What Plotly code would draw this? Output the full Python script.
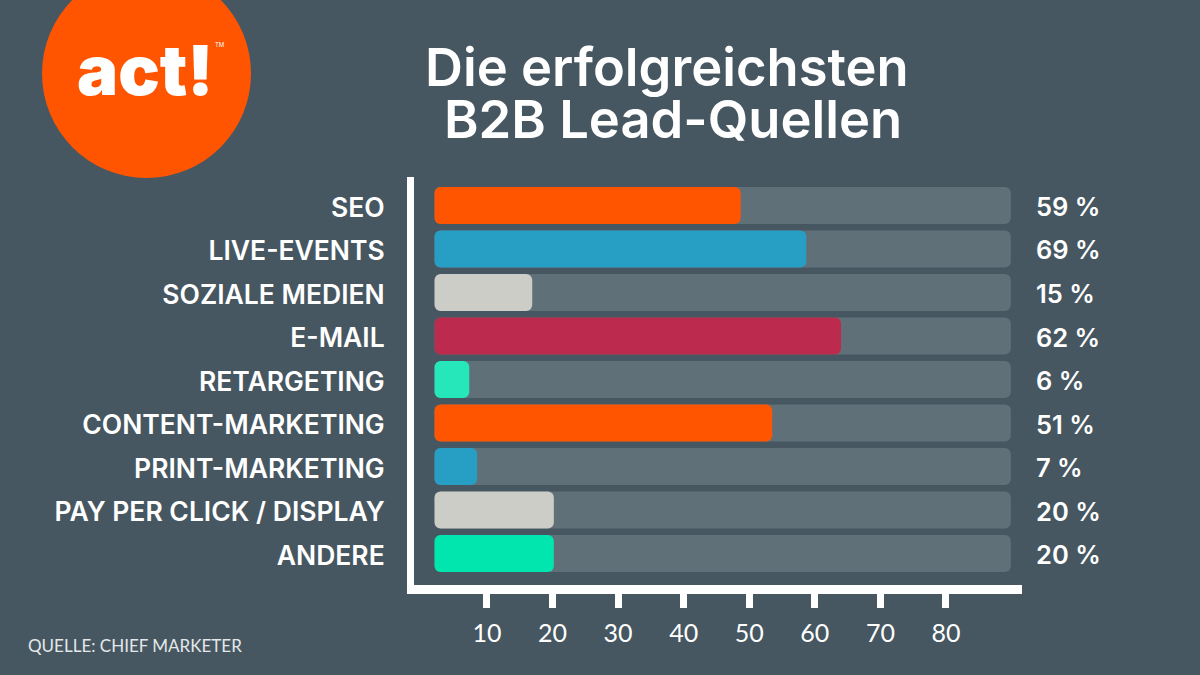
import plotly.graph_objects as go

categories = ["SEO", "LIVE-EVENTS", "SOZIALE MEDIEN", "E-MAIL", "RETARGETING",
              "CONTENT-MARKETING", "PRINT-MARKETING", "PAY PER CLICK / DISPLAY", "ANDERE"]
bar_end = [48.7, 58.7, 16.9, 64.0, 7.3, 53.5, 8.5, 20.2, 20.2]
value_labels = ["59 %", "69 %", "15 %", "62 %", "6 %", "51 %", "7 %", "20 %", "20 %"]
colors = ["#FF5500", "#279FC4", "#CCCDC6", "#BC2A4D", "#26E7B9",
          "#FF5500", "#279FC4", "#CCCDC6", "#00E6AE"]
track_end = 89.9
bar_start = 2.0
x_ticks = [10, 20, 30, 40, 50, 60, 70, 80]

BG = "#465761"
TRACK = "#607079"
FONT = "Lato"
HEAD = "Inter"
L, R, T, B = 414, 1022, 177, 585
W, H = 1200, 675


def px(x):
    return (x - L) / (R - L)


def py(y):
    return (B - y) / (B - T)


def note(x, y, text, font, xanchor="center"):
    return dict(x=px(x), y=py(y), xref="paper", yref="paper", text=text, showarrow=False,
                xanchor=xanchor, yanchor="middle", font=font)


fig = go.Figure()
fig.add_bar(y=categories, x=[track_end - bar_start] * len(categories), base=bar_start,
            orientation="h", marker=dict(color=TRACK, line_width=0), hoverinfo="skip")
fig.add_bar(y=categories, x=[e - bar_start for e in bar_end], base=bar_start,
            orientation="h", marker=dict(color=colors, line_width=0))

annotations = [
    dict(x=px(1034), xref="paper", y=c, yref="y", yshift=-1, text=t, showarrow=False,
         xanchor="left", yanchor="middle",
         font=dict(family=HEAD, size=25.5, color="white", weight=600))
    for c, t in zip(categories, value_labels)
]
title_font = dict(family=HEAD, size=52.5, color="white", weight=600)
annotations += [
    note(667, 67, "Die erfolgreichsten", title_font),
    note(673, 119, "B2B Lead-Quellen", title_font),
    note(26, 645, "QUELLE: CHIEF MARKETER", dict(family=FONT, size=17, color="#E4E8EA"), "left"),
    note(145, 70, "act!", dict(family=HEAD, size=69, color="white", weight=900)),
    note(219, 44, "TM", dict(family=HEAD, size=6, color="white")),
]

fig.update_layout(
    width=W, height=H, autosize=False,
    margin=dict(l=L, r=W - R, t=T, b=H - B, pad=0),
    paper_bgcolor=BG, plot_bgcolor=BG,
    barmode="overlay", bargap=0.15, barcornerradius=6,
    showlegend=False,
    annotations=annotations,
    shapes=[dict(type="circle", xref="paper", yref="paper", layer="below",
                 x0=px(42), x1=px(251), y0=py(178), y1=py(-31),
                 fillcolor="#FF5500", line_width=0)],
    xaxis=dict(range=[-1.13, 91.6], tickmode="array", tickvals=x_ticks,
               ticks="outside", ticklen=14, tickwidth=7, tickcolor="white",
               showgrid=False, zeroline=False, showline=True, linecolor="white", linewidth=9,
               ticklabelstandoff=4,
               tickfont=dict(family=FONT, size=25, color="white")),
    yaxis=dict(type="category", categoryorder="array", categoryarray=categories,
               range=[8.724, -0.655], ticks="", showgrid=False, zeroline=False,
               showline=True, linecolor="white", linewidth=7, ticklabelstandoff=17,
               ticklabelshift=-2,
               tickfont=dict(family=HEAD, size=26.5, color="white", weight=600)),
)
fig.write_html("out.html", config={"displayModeBar": False},
               post_script="document.body.style.margin='0';")
